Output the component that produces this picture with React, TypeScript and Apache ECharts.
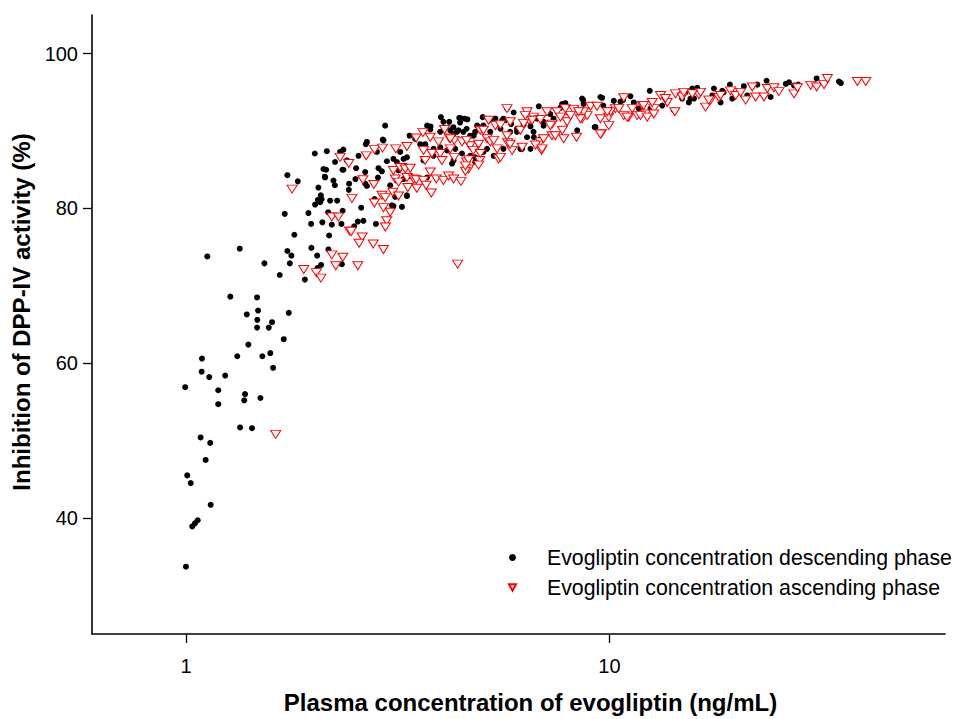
import React, { useEffect, useRef } from 'react';
import * as echarts from 'echarts';

// [plasma concentration (ng/mL), inhibition of DPP-IV activity (%)]
const descendingPhase: [number, number][] = [
  [0.996, 56.9], [1.0, 33.7], [1.007, 45.5], [1.026, 44.5], [1.035, 38.9], [1.05, 39.3], [1.066, 39.7], [1.083, 50.4],
  [1.089, 58.9], [1.091, 60.6], [1.113, 47.5], [1.123, 73.8], [1.135, 58.2], [1.141, 49.7], [1.144, 41.7], [1.192, 56.5],
  [1.192, 54.7], [1.238, 58.4], [1.273, 68.6], [1.322, 60.9], [1.34, 74.8], [1.342, 51.7], [1.373, 55.2], [1.379, 56.0],
  [1.392, 66.3], [1.404, 62.4], [1.432, 51.6], [1.472, 68.5], [1.48, 66.8], [1.474, 65.6], [1.472, 64.6], [1.499, 55.5],
  [1.515, 60.9], [1.532, 72.9], [1.569, 64.6], [1.597, 65.3], [1.582, 61.3], [1.606, 59.4], [1.665, 71.4], [1.702, 63.1],
  [1.749, 66.5], [1.711, 79.3], [1.736, 84.3], [1.837, 83.5], [1.736, 74.5], [1.774, 73.9], [1.759, 72.9], [1.803, 76.6],
  [1.909, 70.8], [2.044, 72.3], [2.085, 72.7], [2.334, 72.8], [2.041, 73.9], [1.978, 74.9], [2.17, 74.7], [2.178, 76.5],
  [1.946, 79.4], [1.975, 78.0], [2.1, 78.2], [2.21, 77.9], [2.329, 78.0], [2.167, 79.5], [2.018, 80.5], [2.074, 80.8],
  [2.19, 81.0], [2.275, 81.0], [2.082, 81.7], [2.055, 82.7], [2.23, 83.6], [2.247, 83.0], [2.128, 84.1], [2.342, 85.0],
  [2.143, 85.0], [2.428, 83.2], [2.424, 82.4],
  [2.954, 90.7], [4.0, 91.8], [4.42, 91.7], [5.02, 91.8], [3.71, 90.7], [3.78, 90.6], [4.055, 91.2], [4.21, 90.1],
  [4.36, 89.9], [4.52, 89.9], [4.69, 89.4], [4.82, 89.9], [2.917, 88.9], [2.675, 88.6], [2.66, 88.3], [2.312, 87.3],
  [2.354, 87.6], [2.151, 87.4], [2.015, 87.1], [2.824, 87.3], [2.555, 86.8], [2.399, 86.2], [2.25, 86.0], [2.112, 85.1],
  [2.354, 85.0], [2.523, 85.2], [2.65, 84.7], [2.849, 85.2], [2.902, 84.8], [2.982, 86.1], [3.148, 86.0], [3.265, 86.4],
  [3.295, 85.5], [2.131, 84.0], [2.513, 83.8], [2.65, 83.2], [2.675, 82.9], [2.84, 84.0], [2.09, 81.2], [2.05, 81.1],
  [2.344, 79.7], [2.593, 80.1], [2.788, 81.2], [3.09, 80.3], [3.236, 80.2], [3.325, 81.6], [2.496, 77.7], [2.546, 78.3],
  [2.625, 78.4], [2.809, 78.0],
  [12.45, 95.2], [11.21, 94.5], [9.61, 94.3], [8.67, 94.0], [10.24, 93.9], [10.62, 93.8], [10.77, 94.0], [15.12, 95.0],
  [15.54, 94.2], [16.12, 95.6], [6.81, 93.2], [7.87, 93.6], [7.66, 93.0], [5.73, 92.9], [5.94, 92.4], [4.44, 91.7],
  [4.55, 91.6], [5.23, 91.4], [5.62, 91.6], [5.86, 90.9], [4.28, 90.5], [4.4, 90.1], [4.6, 90.3], [4.91, 90.5],
  [5.04, 90.7], [5.23, 89.9], [5.53, 90.3], [6.05, 90.3], [6.27, 90.8], [6.51, 90.6], [6.75, 91.6], [6.99, 91.2],
  [7.38, 91.6], [6.39, 89.2], [6.51, 87.7], [6.63, 89.2], [6.16, 87.7], [5.62, 87.7], [5.33, 86.8], [4.82, 86.6],
  [5.04, 87.3], [4.25, 85.8], [4.69, 88.1], [4.52, 88.8], [9.23, 90.5], [9.88, 92.7],
  [15.69, 95.5], [15.4, 93.7], [15.84, 94.2], [17.65, 95.5], [17.5, 94.6], [18.47, 95.2], [18.6, 95.0], [19.25, 96.0],
  [18.3, 93.7], [19.5, 94.2], [20.77, 95.8], [21.16, 94.6], [22.35, 96.0], [23.5, 96.5], [24.02, 94.4], [26.08, 96.1],
  [26.55, 96.3], [27.28, 95.9], [27.9, 96.0], [30.85, 96.8], [34.84, 96.4], [35.2, 96.2],
  [4.185, 91.2], [4.44, 91.1], [4.62, 91.5], [5.38, 91.6], [5.68, 91.4], [3.775, 90.2], [3.986, 89.9], [4.28, 89.6],
  [4.78, 89.4], [4.87, 90.7], [3.373, 89.4], [3.478, 89.0], [3.574, 88.3], [3.673, 88.3], [3.842, 87.7], [3.986, 87.9],
  [4.135, 87.5], [4.325, 87.7], [4.485, 87.1], [4.69, 86.8], [4.955, 86.4], [5.14, 87.7], [2.927, 88.8], [3.09, 86.4],
  [3.206, 87.3], [3.325, 86.6], [3.639, 86.2], [3.842, 86.8], [3.177, 84.9], [3.386, 84.2], [3.265, 83.8], [3.707, 84.0],
  [4.285, 86.2], [4.82, 86.0], [3.036, 83.0], [3.12, 81.5], [3.325, 81.7], [3.064, 80.4],
  [11.42, 93.7], [11.73, 92.9], [12.5, 92.9], [13.32, 93.3], [14.19, 92.7], [14.85, 94.2], [5.58, 91.4], [5.83, 89.9],
  [6.05, 89.9], [6.62, 89.9], [6.87, 89.0], [6.99, 90.7], [7.25, 92.2], [7.73, 93.5], [8.62, 94.2], [8.69, 93.5],
  [9.52, 94.4], [9.67, 93.3], [8.39, 90.1], [9.27, 90.5], [6.22, 87.7],
];

const ascendingPhase: [number, number][] = [
  [1.629, 50.8], [1.781, 82.5], [1.898, 72.1], [2.032, 71.7], [2.082, 71.0], [2.21, 74.0], [2.259, 72.6], [2.347, 73.7],
  [2.21, 78.9], [2.291, 78.9], [2.433, 77.1], [2.312, 86.6], [2.424, 85.8], [2.665, 86.8], [2.788, 87.6], [2.911, 87.8],
  [3.131, 87.7], [3.325, 88.0], [3.497, 89.1], [3.627, 89.8], [3.775, 89.2], [3.95, 88.6], [4.08, 90.2], [4.185, 89.1],
  [4.3, 88.8], [4.485, 88.6], [4.69, 88.1], [4.955, 90.1], [5.185, 91.4], [5.38, 90.7], [5.14, 89.0], [5.23, 88.6],
  [5.43, 87.7], [3.639, 87.5], [3.81, 87.1], [3.986, 87.1], [4.21, 87.7], [4.3, 86.6], [3.673, 86.2], [4.022, 86.2],
  [4.6, 86.0], [4.94, 86.2], [4.91, 85.6], [4.65, 85.1], [4.57, 84.8], [3.09, 84.9], [3.206, 85.3], [3.295, 85.1],
  [3.386, 85.2], [3.325, 84.0], [3.12, 83.8], [3.177, 83.4], [3.45, 83.8], [3.497, 83.7], [3.639, 83.6], [3.775, 84.7],
  [3.9, 83.8], [4.055, 83.6], [4.17, 84.2], [4.285, 83.8], [4.46, 83.5], [3.69, 83.0], [3.342, 82.7], [3.51, 82.6],
  [3.796, 82.0], [3.08, 82.1], [3.177, 81.6], [2.617, 83.7], [2.778, 83.1], [2.465, 81.3], [2.902, 81.7], [2.954, 81.4],
  [2.786, 80.7], [2.927, 80.1], [3.036, 79.5], [2.98, 78.4], [2.958, 77.6], [2.455, 77.0], [2.607, 76.3], [2.563, 75.5],
  [2.768, 75.4], [2.927, 74.7], [2.546, 72.6], [4.38, 72.8],
  [4.21, 89.0], [4.6, 88.8], [4.91, 88.3], [4.77, 87.5], [4.955, 87.1], [4.65, 86.3], [4.57, 85.5], [5.47, 86.4],
  [5.89, 87.5], [6.22, 87.9], [5.75, 88.5], [5.33, 88.8], [5.73, 89.4], [5.04, 90.1], [5.53, 90.8], [5.83, 91.2],
  [6.16, 90.1], [6.39, 92.5], [6.62, 91.8], [6.87, 91.5], [7.12, 92.5], [7.32, 90.9], [6.87, 88.6], [6.91, 87.5],
  [6.69, 88.2], [7.32, 89.4], [7.8, 89.0], [7.74, 90.1], [8.36, 89.2], [7.52, 92.5], [7.87, 92.9], [8.23, 92.8],
  [8.62, 91.6], [8.86, 92.0], [9.02, 93.2], [9.35, 93.2], [9.52, 91.6], [9.96, 91.8], [9.57, 89.7], [10.33, 92.9],
  [10.81, 94.3], [10.81, 92.0], [11.32, 92.9], [11.95, 93.3], [12.17, 92.2], [12.73, 92.9], [13.2, 94.6], [13.69, 93.7],
  [14.32, 94.8], [14.27, 92.5], [14.85, 94.4], [16.26, 94.7], [11.63, 92.0], [11.1, 91.8], [10.06, 92.5], [8.69, 92.5],
  [7.94, 91.6], [6.45, 91.4], [6.27, 91.0],
  [14.98, 95.0], [16.41, 95.0], [16.87, 93.1], [17.33, 94.0], [18.13, 94.3], [19.32, 95.2], [19.86, 94.6], [20.41, 95.0],
  [20.97, 94.0], [21.75, 95.7], [22.14, 94.4], [23.17, 94.4], [23.6, 95.5], [24.46, 95.6], [25.13, 95.1], [27.28, 94.8],
  [27.79, 95.6], [29.87, 95.9], [30.85, 95.7], [32.11, 96.0], [32.71, 96.8], [38.5, 96.4], [40.3, 96.4],
  [11.01, 91.8], [11.84, 92.0], [12.28, 91.8], [12.73, 92.2], [12.04, 93.3], [12.62, 93.7], [13.56, 94.2], [15.69, 94.8],
  [17.17, 94.0], [18.3, 94.6],
  [5.73, 92.9], [5.83, 88.3], [5.53, 86.6], [6.33, 92.0], [6.57, 91.4], [6.99, 89.0], [6.93, 87.7], [7.45, 89.4],
  [7.94, 91.2], [8.54, 91.6], [9.52, 89.6], [9.96, 90.7], [9.88, 92.5], [10.52, 92.9], [7.25, 90.7], [7.66, 91.8],
  [8.09, 92.0], [8.46, 92.5],
];

const seriesNames = [
  'Evogliptin concentration descending phase',
  'Evogliptin concentration ascending phase',
];
const xTickValues = [1, 10];
const yTickValues = [40, 60, 80, 100];
const xAxisName = 'Plasma concentration of evogliptin (ng/mL)';
const yAxisName = 'Inhibition of DPP-IV activity (%)';

const FONT = '"Liberation Sans", Arial, Helvetica, sans-serif';

export default function App() {
  const ref = useRef<HTMLDivElement>(null);
  useEffect(() => {
    if (!ref.current) return;
    const chart = echarts.init(ref.current, null, { renderer: 'svg' });
    chart.setOption({
      animation: false,
      backgroundColor: '#ffffff',
      grid: { left: 92, right: 10, top: 15, bottom: 72, containLabel: false },
      legend: {
        orient: 'vertical',
        left: 508,
        top: 547,
        padding: 0,
        itemWidth: 7,
        itemHeight: 7,
        itemGap: 9,
        textStyle: { fontSize: 21.3, color: '#000', fontFamily: FONT, padding: [0, 0, 0, 26] },
        data: [
          { name: seriesNames[0], icon: 'circle' },
          { name: seriesNames[1], icon: 'path://M0,0L10,0L5,9Z' },
        ],
      },
      xAxis: {
        type: 'log',
        logBase: 10,
        min: 0.6,
        max: 62,
        name: xAxisName,
        nameLocation: 'middle',
        nameGap: 56,
        nameTextStyle: { fontSize: 24, fontWeight: 'bold', color: '#000', fontFamily: FONT, padding: [0, 0, 0, 24] },
        axisLine: { show: true, lineStyle: { color: '#000', width: 1.6 } },
        axisTick: { show: true, length: 9, lineStyle: { color: '#000', width: 1.3 }, customValues: xTickValues },
        axisLabel: { fontSize: 20, color: '#000', fontFamily: FONT, margin: 22, customValues: xTickValues },
        minorTick: { show: false },
        splitLine: { show: false },
      },
      yAxis: {
        type: 'value',
        min: 25,
        max: 105,
        name: yAxisName,
        nameLocation: 'middle',
        nameGap: 57,
        nameTextStyle: { fontSize: 24, fontWeight: 'bold', color: '#000', fontFamily: FONT, padding: [0, 0, 0, 25] },
        axisLine: { show: true, lineStyle: { color: '#000', width: 1.6 } },
        axisTick: { show: true, length: 9, lineStyle: { color: '#000', width: 1.3 }, customValues: yTickValues },
        axisLabel: { fontSize: 20, color: '#000', fontFamily: FONT, margin: 14, customValues: yTickValues },
        splitLine: { show: false },
      },
      series: [
        {
          name: seriesNames[0],
          type: 'scatter',
          data: descendingPhase,
          symbol: 'circle',
          symbolSize: 6,
          itemStyle: { color: '#000000', opacity: 1 },
          z: 2,
        },
        {
          name: seriesNames[1],
          type: 'scatter',
          data: ascendingPhase,
          symbol: 'triangle',
          symbolRotate: 180,
          symbolSize: [10, 8],
          itemStyle: { color: '#ffffff', borderColor: '#ff0000', borderWidth: 1, opacity: 1 },
          z: 3,
        },
      ],
    });
    return () => chart.dispose();
  }, []);
  return (
    <div
      ref={ref}
      style={{ position: 'fixed', left: 0, top: 0, width: 955, height: 719, background: '#fff' }}
    />
  );
}
